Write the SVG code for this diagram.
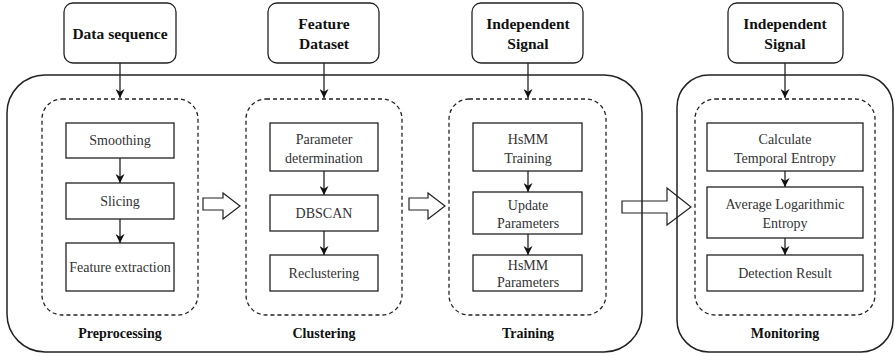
<svg xmlns="http://www.w3.org/2000/svg" width="895" height="356" viewBox="0 0 895 356">
<style>
.bg{fill:#fff}
.cont{fill:none;stroke:#222;stroke-width:1.5}
.dash{fill:none;stroke:#222;stroke-width:1.3;stroke-dasharray:4 3}
.hdr{fill:#fff;stroke:#222;stroke-width:1.3}
.box{fill:#fff;stroke:#222;stroke-width:1.3}
.ht{font-family:"Liberation Serif",serif;font-weight:bold;font-size:15.5px;fill:#111;text-anchor:middle}
.bt{font-family:"Liberation Serif",serif;font-size:14px;fill:#333;text-anchor:middle}
.lt{font-family:"Liberation Serif",serif;font-weight:bold;font-size:14px;fill:#111;text-anchor:middle}
.ln{fill:none;stroke:#222;stroke-width:1.3}
.big{fill:#fff;stroke:#222;stroke-width:1.2}
</style>
<defs>
<marker id="ah" viewBox="0 0 10 10" refX="10" refY="5" markerWidth="9" markerHeight="9" markerUnits="userSpaceOnUse" orient="auto">
<path d="M0,0 L10,5 L0,10 L3,5 Z" fill="#111"/>
</marker>
</defs>
<rect class="bg" width="895" height="356"/>

<g id="hollow-arrows">
<path class="big" d="M203,198 H223 V193 L240,206 L223,219 V210 H203 Z"/>
<path class="big" d="M409,198 H428 V193 L445,206 L428,219 V210 H409 Z"/>
<path class="big" d="M622,201 H667 V188 L691,207 L667,225 V213 H622 Z"/>
</g>

<g id="containers">
<rect class="cont" x="7" y="75" width="635" height="277" rx="38" ry="38"/>
<rect class="cont" x="677" y="75" width="216" height="277" rx="32" ry="32"/>
</g>

<g id="stages">
<g id="stage-preprocessing">
<rect class="dash" x="42" y="99" width="156" height="216" rx="20" ry="20"/>
<text class="lt" x="120" y="338">Preprocessing</text>
</g>
<g id="stage-clustering">
<rect class="dash" x="246" y="99" width="156" height="216" rx="20" ry="20"/>
<text class="lt" x="324" y="338">Clustering</text>
</g>
<g id="stage-training">
<rect class="dash" x="449" y="99" width="157" height="216" rx="20" ry="20"/>
<text class="lt" x="528" y="338">Training</text>
</g>
<g id="stage-monitoring">
<rect class="dash" x="695" y="99" width="180" height="216" rx="20" ry="20"/>
<text class="lt" x="785" y="338">Monitoring</text>
</g>
</g>

<g id="connectors">
<line class="ln" x1="120" y1="63" x2="120" y2="98" marker-end="url(#ah)"/>
<line class="ln" x1="120" y1="158" x2="120" y2="183" marker-end="url(#ah)"/>
<line class="ln" x1="120" y1="219" x2="120" y2="243" marker-end="url(#ah)"/>
<line class="ln" x1="324" y1="63" x2="324" y2="98" marker-end="url(#ah)"/>
<line class="ln" x1="324" y1="171" x2="324" y2="195" marker-end="url(#ah)"/>
<line class="ln" x1="324" y1="231" x2="324" y2="255" marker-end="url(#ah)"/>
<line class="ln" x1="528" y1="63" x2="528" y2="98" marker-end="url(#ah)"/>
<line class="ln" x1="528" y1="171" x2="528" y2="192" marker-end="url(#ah)"/>
<line class="ln" x1="528" y1="234" x2="528" y2="255" marker-end="url(#ah)"/>
<line class="ln" x1="785" y1="63" x2="785" y2="98" marker-end="url(#ah)"/>
<line class="ln" x1="785" y1="171" x2="785" y2="187" marker-end="url(#ah)"/>
<line class="ln" x1="785" y1="238" x2="785" y2="255" marker-end="url(#ah)"/>
</g>

<g id="n-data-sequence">
<rect class="hdr" x="64" y="3" width="112" height="60" rx="9" ry="9"/>
<text class="ht" x="120" y="39">Data sequence</text>
</g>
<g id="n-feature-dataset">
<rect class="hdr" x="268" y="3" width="111" height="60" rx="9" ry="9"/>
<text class="ht" x="324" y="29">Feature</text>
<text class="ht" x="324" y="49">Dataset</text>
</g>
<g id="n-independent-signal-1">
<rect class="hdr" x="472" y="3" width="111" height="60" rx="9" ry="9"/>
<text class="ht" x="528" y="29">Independent</text>
<text class="ht" x="528" y="49">Signal</text>
</g>
<g id="n-independent-signal-2">
<rect class="hdr" x="728" y="3" width="115" height="60" rx="9" ry="9"/>
<text class="ht" x="785" y="29">Independent</text>
<text class="ht" x="785" y="49">Signal</text>
</g>

<g id="n-smoothing">
<rect class="box" x="66" y="123" width="108" height="35"/>
<text class="bt" x="120" y="145">Smoothing</text>
</g>
<g id="n-slicing">
<rect class="box" x="66" y="183" width="108" height="36"/>
<text class="bt" x="120" y="206">Slicing</text>
</g>
<g id="n-feature-extraction">
<rect class="box" x="66" y="243" width="108" height="48"/>
<text class="bt" x="120" y="272">Feature extraction</text>
</g>

<g id="n-parameter-determination">
<rect class="box" x="270" y="123" width="108" height="48"/>
<text class="bt" x="324" y="144">Parameter</text>
<text class="bt" x="324" y="163">determination</text>
</g>
<g id="n-dbscan">
<rect class="box" x="270" y="195" width="108" height="36"/>
<text class="bt" x="324" y="218">DBSCAN</text>
</g>
<g id="n-reclustering">
<rect class="box" x="270" y="255" width="108" height="36"/>
<text class="bt" x="324" y="278">Reclustering</text>
</g>

<g id="n-hsmm-training">
<rect class="box" x="473" y="123" width="109" height="48"/>
<text class="bt" x="528" y="144">HsMM</text>
<text class="bt" x="528" y="163">Training</text>
</g>
<g id="n-update-parameters">
<rect class="box" x="473" y="192" width="109" height="42"/>
<text class="bt" x="528" y="210">Update</text>
<text class="bt" x="528" y="228">Parameters</text>
</g>
<g id="n-hsmm-parameters">
<rect class="box" x="473" y="255" width="109" height="36"/>
<text class="bt" x="528" y="270">HsMM</text>
<text class="bt" x="528" y="287">Parameters</text>
</g>

<g id="n-calc-temporal-entropy">
<rect class="box" x="707" y="123" width="156" height="48"/>
<text class="bt" x="785" y="144">Calculate</text>
<text class="bt" x="785" y="163">Temporal Entropy</text>
</g>
<g id="n-avg-log-entropy">
<rect class="box" x="707" y="187" width="156" height="51"/>
<text class="bt" x="785" y="209">Average Logarithmic</text>
<text class="bt" x="785" y="228">Entropy</text>
</g>
<g id="n-detection-result">
<rect class="box" x="707" y="255" width="156" height="36"/>
<text class="bt" x="785" y="278">Detection Result</text>
</g>
</svg>
